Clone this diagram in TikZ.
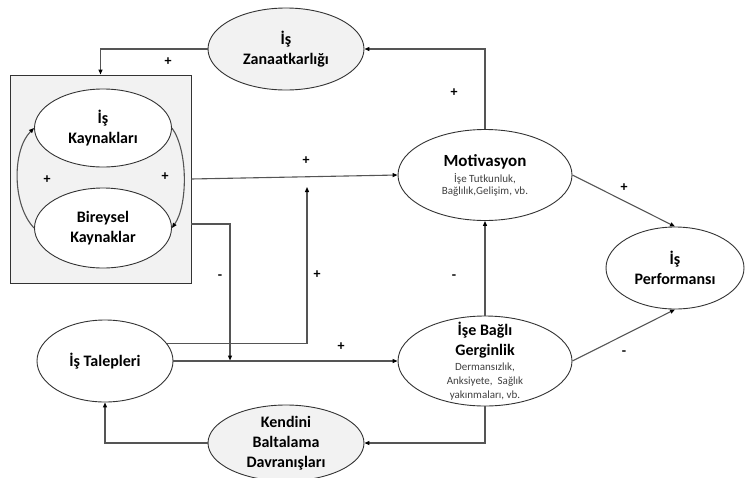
\documentclass[tikz,border=0pt]{standalone}
\usepackage{fontspec}
\setmainfont{Carlito}
\usetikzlibrary{arrows.meta,shapes.geometric}
\definecolor{linegray}{HTML}{555555}
\definecolor{fillgray}{HTML}{F2F2F2}
\definecolor{edgegray}{HTML}{333333}
\definecolor{subgray}{HTML}{404040}
\newcommand{\subtxt}{\fontsize{11}{12}\selectfont\mdseries\color{subgray}}
\begin{document}
\begin{tikzpicture}[x=1pt,y=-1pt,
  oval/.style={ellipse, draw=edgegray, line width=0.9pt, fill=white, inner sep=0pt},
  ovalgray/.style={oval, fill=fillgray},
  txt/.style={align=center, inner sep=0pt, font=\fontsize{16}{20}\selectfont\bfseries},
  conn/.style={draw=linegray, line width=1.1pt, -{Triangle[length=5pt,width=4pt,color=black]}},
  sign/.style={font=\fontsize{14}{14}\selectfont\bfseries, inner sep=0pt}
]
\useasboundingbox (0,0) rectangle (747,477);

% resources box
\node[draw=edgegray, fill=fillgray, line width=0.9pt, minimum width=181, minimum height=208, inner sep=0pt] (res) at (100.5,179) {};

% ellipses
\node[oval, minimum width=137, minimum height=78] (kay) at (103,128) {};
\node[txt] (kayT) at (kay) {İş\\Kaynakları};
\node[oval, minimum width=137, minimum height=80] (bir) at (103,228) {};
\node[txt] (birT) at (bir) {Bireysel\\Kaynaklar};
\node[ovalgray, minimum width=156, minimum height=82] (zan) at (286,49) {};
\node[txt] (zanT) at (zan) {İş\\Zanaatkarlığı};
\node[oval, minimum width=174, minimum height=91] (mot) at (485,175) {};
\node[txt, font=\fontsize{17}{20}\selectfont\bfseries] (motT) at (mot) {Motivasyon\\[-4pt]{\subtxt İşe Tutkunluk,}\\[-8pt]{\subtxt Bağlılık,Gelişim, vb.}};
\node[oval, minimum width=138, minimum height=82] (perf) at (675,268) {};
\node[txt] (perfT) at (perf) {İş\\Performansı};
\node[oval, minimum width=174, minimum height=90] (ger) at (485,361) {};
\node[txt] (gerT) at (ger) {İşe Bağlı\\Gerginlik\\[-5pt]{\subtxt Dermansızlık,}\\[-6pt]{\subtxt Anksiyete,\ \ Sağlık}\\[-6pt]{\subtxt yakınmaları, vb.}};
\node[oval, minimum width=136, minimum height=82] (tal) at (105,361) {};
\node[txt] (talT) at (tal) {İş Talepleri};
\node[ovalgray, minimum width=156, minimum height=76] (ken) at (286,443) {};
\node[txt] (kenT) at (ken) {Kendini\\Baltalama\\Davranışları};

% helper coordinates
\coordinate (j1) at (307,187);
\coordinate (r2) at (191,224);
\coordinate (j2) at (230,360.5);

% connectors
\draw[conn] (mot.north) |- (zan.east);
\draw[conn] (zan.west) -| (res.north);
\draw[conn] (res.east) -- (mot.west);
\draw[conn] (tal.16) -| (j1);
\draw[conn] (r2) -| (j2);
\draw[conn] (tal.east) -- (ger.west);
\draw[conn] (ger.north) -- (mot.south);
\draw[conn] (mot.east) -- (perf.north);
\draw[conn] (ger.east) -- (perf.south);
\draw[conn] (ger.south) |- (ken.east);
\draw[conn] (ken.west) -| (tal.south);
\draw[conn] (bir.west) .. controls (12,205) and (12,150) .. (kay.west);
\draw[conn] (kay.east) .. controls (188,150) and (188,205) .. (bir.east);

% signs
\node[sign] (s1) at (168,62) {+};
\node[sign] (s2) at (454,93) {+};
\node[sign] (s3) at (306,161) {+};
\node[sign] (s4) at (47,180) {+};
\node[sign] (s5) at (165,177) {+};
\node[sign] (s6) at (317,275) {+};
\node[sign] (s7) at (220,277) {-};
\node[sign] (s8) at (341,347) {+};
\node[sign] (s9) at (454,277) {-};
\node[sign] (s10) at (624,188) {+};
\node[sign] (s11) at (624,353) {-};
\end{tikzpicture}
\end{document}
